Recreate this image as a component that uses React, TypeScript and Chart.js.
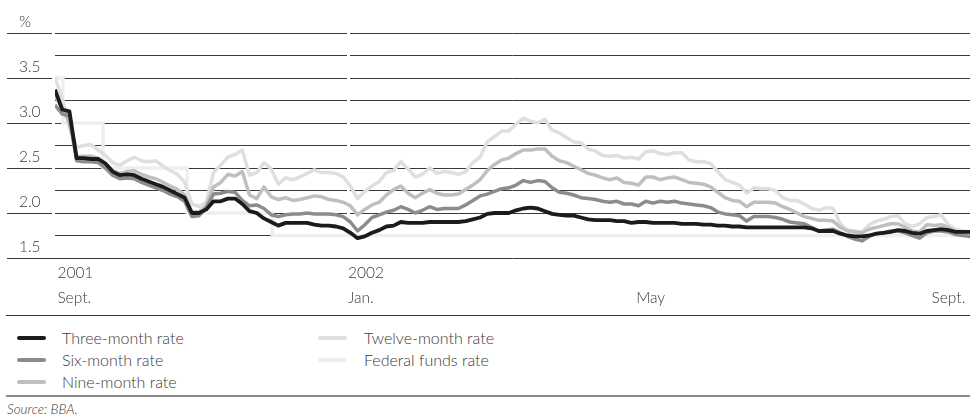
import React, { useEffect, useRef } from 'react';
import { Chart, registerables } from 'chart.js';

Chart.register(...registerables);

// Sample dates: every third day counted from 1 September 2001 (day 0).
const STEP_DAYS = 3;

const threeMonth = [
  3.37, 3.15, 3.13, 2.61, 2.61, 2.60, 2.60, 2.55, 2.46, 2.42,
  2.43, 2.42, 2.38, 2.35, 2.32, 2.29, 2.25, 2.21, 2.17, 2.00,
  2.00, 2.04, 2.13, 2.13, 2.16, 2.16, 2.10, 2.02, 2.00, 1.94,
  1.90, 1.86, 1.89, 1.89, 1.89, 1.89, 1.87, 1.86, 1.86, 1.85,
  1.83, 1.78, 1.72, 1.74, 1.78, 1.81, 1.85, 1.86, 1.90, 1.89,
  1.89, 1.89, 1.90, 1.90, 1.90, 1.90, 1.90, 1.91, 1.93, 1.95,
  1.99, 2.00, 2.00, 2.00, 2.03, 2.05, 2.06, 2.05, 2.02, 1.99,
  1.98, 1.97, 1.97, 1.95, 1.93, 1.92, 1.92, 1.92, 1.91, 1.91,
  1.89, 1.90, 1.90, 1.89, 1.89, 1.89, 1.89, 1.88, 1.88, 1.88,
  1.87, 1.87, 1.86, 1.86, 1.85, 1.85, 1.84, 1.84, 1.84, 1.84,
  1.84, 1.84, 1.84, 1.84, 1.84, 1.83, 1.80, 1.80, 1.80, 1.77,
  1.75, 1.74, 1.74, 1.75, 1.77, 1.78, 1.79, 1.81, 1.80, 1.78,
  1.77, 1.80, 1.81, 1.82, 1.81, 1.79, 1.79, 1.79,
];

const sixMonth = [
  3.20, 3.10, 3.08, 2.58, 2.57, 2.57, 2.56, 2.50, 2.42, 2.38,
  2.39, 2.38, 2.34, 2.31, 2.28, 2.25, 2.21, 2.18, 2.13, 1.96,
  1.97, 2.06, 2.21, 2.22, 2.24, 2.23, 2.14, 2.08, 2.09, 2.05,
  1.98, 1.96, 1.98, 1.99, 1.99, 2.00, 1.99, 1.99, 1.99, 1.98,
  1.96, 1.90, 1.80, 1.87, 1.95, 1.98, 2.01, 2.03, 2.07, 2.04,
  2.00, 2.03, 2.07, 2.04, 2.05, 2.05, 2.05, 2.09, 2.14, 2.19,
  2.21, 2.24, 2.27, 2.28, 2.31, 2.36, 2.34, 2.36, 2.35, 2.28,
  2.23, 2.22, 2.20, 2.17, 2.16, 2.15, 2.13, 2.12, 2.13, 2.10,
  2.10, 2.08, 2.13, 2.11, 2.13, 2.12, 2.13, 2.11, 2.10, 2.09,
  2.08, 2.06, 2.01, 1.99, 1.98, 1.97, 1.91, 1.96, 1.96, 1.96,
  1.95, 1.93, 1.90, 1.89, 1.88, 1.84, 1.80, 1.81, 1.82, 1.78,
  1.74, 1.71, 1.69, 1.74, 1.77, 1.78, 1.80, 1.80, 1.78, 1.75,
  1.72, 1.78, 1.80, 1.80, 1.79, 1.76, 1.75, 1.74,
];

const nineMonth = [
  3.30, 3.17, 3.00, 2.63, 2.63, 2.63, 2.61, 2.55, 2.47, 2.44,
  2.46, 2.47, 2.43, 2.40, 2.38, 2.34, 2.30, 2.26, 2.20, 2.01,
  2.01, 2.08, 2.29, 2.34, 2.43, 2.41, 2.46, 2.20, 2.16, 2.29,
  2.18, 2.15, 2.17, 2.14, 2.15, 2.17, 2.19, 2.18, 2.15, 2.14,
  2.12, 2.08, 1.98, 2.04, 2.09, 2.12, 2.20, 2.26, 2.30, 2.22,
  2.17, 2.22, 2.26, 2.22, 2.20, 2.20, 2.21, 2.26, 2.31, 2.37,
  2.47, 2.54, 2.59, 2.61, 2.66, 2.70, 2.70, 2.71, 2.71, 2.63,
  2.58, 2.56, 2.52, 2.48, 2.44, 2.42, 2.39, 2.37, 2.39, 2.34,
  2.33, 2.31, 2.40, 2.40, 2.37, 2.39, 2.40, 2.37, 2.34, 2.33,
  2.32, 2.29, 2.23, 2.17, 2.14, 2.13, 2.07, 2.12, 2.12, 2.12,
  2.11, 2.07, 2.04, 2.00, 1.96, 1.94, 1.92, 1.92, 1.91, 1.84,
  1.80, 1.79, 1.78, 1.82, 1.84, 1.86, 1.88, 1.88, 1.84, 1.80,
  1.79, 1.87, 1.86, 1.87, 1.84, 1.79, 1.77, 1.76,
];

const twelveMonth = [
  3.50, 3.28, 2.95, 2.73, 2.75, 2.76, 2.70, 2.64, 2.56, 2.53,
  2.58, 2.62, 2.58, 2.57, 2.58, 2.52, 2.47, 2.43, 2.34, 2.10,
  2.07, 2.12, 2.45, 2.53, 2.62, 2.65, 2.70, 2.42, 2.45, 2.56,
  2.49, 2.32, 2.39, 2.37, 2.40, 2.44, 2.48, 2.45, 2.45, 2.44,
  2.40, 2.30, 2.16, 2.24, 2.30, 2.35, 2.45, 2.47, 2.57, 2.49,
  2.40, 2.43, 2.50, 2.44, 2.46, 2.45, 2.43, 2.46, 2.56, 2.62,
  2.79, 2.85, 2.91, 2.91, 2.99, 3.05, 3.02, 3.00, 3.04, 2.92,
  2.89, 2.84, 2.79, 2.78, 2.71, 2.69, 2.64, 2.63, 2.64, 2.61,
  2.62, 2.60, 2.68, 2.69, 2.66, 2.65, 2.67, 2.67, 2.59, 2.57,
  2.57, 2.55, 2.46, 2.37, 2.34, 2.31, 2.22, 2.28, 2.27, 2.27,
  2.25, 2.17, 2.14, 2.14, 2.10, 2.05, 2.03, 2.06, 2.05, 1.88,
  1.81, 1.80, 1.79, 1.87, 1.91, 1.93, 1.96, 1.97, 1.88, 1.85,
  1.88, 1.95, 1.96, 1.98, 1.87, 1.82, 1.80, 1.79,
];

// Federal funds target: day of change (from 1 Sept 2001) and new rate.
const fedChangeDays = [0, 3.3, 20, 55, 90.5, 381];
const fedRates = [3.5, 3.0, 2.5, 2.0, 1.75, 1.75];

const seriesNames = [
  'Three-month rate',
  'Six-month rate',
  'Nine-month rate',
  'Twelve-month rate',
  'Federal funds rate',
];
const seriesColors = ['#1b1b1b', '#8c8c8c', '#bfbfbf', '#dfdfdf', '#edefee'];

const xTickDays = [1, 122, 242, 365];
const xTickYears = ['2001', '2002', '', ''];
const xTickMonths = ['Sept.', 'Jan.', 'May', 'Sept.'];
const xMaxDay = 381;

const yMin = 1.5;
const yMax = 4.0;
const yLabelValues = [1.5, 2.0, 2.5, 3.0, 3.5, 4.0];
const yLabelTexts = ['1.5', '2.0', '2.5', '3.0', '3.5', '%'];

const FONT = 'Lato, "Open Sans", sans-serif';
const TEXT = '#3a3a3a';

const framePlugin = {
  id: 'frame',
  beforeDatasetsDraw(chart: any) {
    const { ctx, chartArea } = chart;
    const ys = chart.scales.y;
    const xs = chart.scales.x;
    ctx.save();
    // white break in grid at the year boundary
    const jx = Math.round(xs.getPixelForValue(xTickDays[1]));
    ctx.fillStyle = '#ffffff';
    ctx.fillRect(jx - 1, chartArea.top - 2, 3, ys.getPixelForValue(1.62) - chartArea.top + 2);
    // stubs and labels on the left
    ctx.strokeStyle = '#3a3a3a';
    ctx.lineWidth = 1;
    ctx.font = `300 15.5px ${FONT}`;
    ctx.fillStyle = TEXT;
    ctx.textAlign = 'left';
    ctx.textBaseline = 'middle';
    yLabelValues.forEach((v, i) => {
      const py = Math.round(ys.getPixelForValue(v)) + 0.5;
      ctx.beginPath();
      ctx.moveTo(7, py);
      ctx.lineTo(v === yMin ? chartArea.left : chartArea.left - 3, py);
      ctx.stroke();
      ctx.fillText(yLabelTexts[i], 19, py - 12);
    });
    ctx.restore();
  },
};

function LineChart() {
  const ref = useRef<HTMLCanvasElement>(null);
  useEffect(() => {
    if (!ref.current) return;
    const days = threeMonth.map((_, i) => i * STEP_DAYS);
    const series = [threeMonth, sixMonth, nineMonth, twelveMonth];
    const datasets: any[] = series.map((s, i) => ({
      label: seriesNames[i],
      data: s,
      borderColor: seriesColors[i],
      borderWidth: i === 0 ? 3.8 : 3.5,
      pointRadius: 0,
      tension: 0,
      borderJoinStyle: 'round',
      fill: false,
    }));
    datasets.push({
      label: seriesNames[4],
      data: fedChangeDays.map((d, i) => ({ x: d, y: fedRates[i] })),
      borderColor: seriesColors[4],
      borderWidth: 3.5,
      pointRadius: 0,
      stepped: 'before',
      fill: false,
    });
    const chart = new Chart(ref.current, {
      type: 'line',
      data: { labels: days, datasets },
      options: {
        animation: false,
        responsive: false,
        devicePixelRatio: 1,
        layout: { padding: { left: 55, top: 33, right: 0, bottom: 0 } },
        plugins: { legend: { display: false }, tooltip: { enabled: false } },
        scales: {
          x: {
            type: 'linear',
            min: 0,
            max: xMaxDay,
            grid: { display: false, drawTicks: false },
            border: { display: false },
            afterBuildTicks: (s: any) => {
              s.ticks = xTickDays.map((v) => ({ value: v }));
            },
            afterFit: (s: any) => {
              s.paddingLeft = 0;
              s.paddingRight = 0;
              s.height = 52;
            },
            ticks: {
              autoSkip: false,
              maxRotation: 0,
              align: 'start',
              padding: 3,
              color: TEXT,
              font: { family: FONT, size: 15.5, weight: '300', lineHeight: 1.6 },
              callback: (v: any) => {
                const i = xTickDays.indexOf(Number(v));
                return i >= 0 ? [xTickYears[i], xTickMonths[i]] : '';
              },
            },
          },
          y: {
            type: 'linear',
            min: yMin,
            max: yMax,
            afterFit: (s: any) => {
              s.width = 0;
            },
            ticks: { display: false, stepSize: 0.25 },
            grid: { color: '#3a3a3a', lineWidth: 1, drawTicks: false },
            border: { display: false },
          },
        },
      },
      plugins: [framePlugin],
    } as any);
    return () => chart.destroy();
  }, []);
  return <canvas ref={ref} width={970} height={310} style={{ position: 'absolute', left: 0, top: 0 }} />;
}

const legendCols = [
  [0, 1, 2],
  [3, 4],
];
const legendColX = [17, 318];
const legendTextX = [62, 364];
const legendRowY = [338, 360, 382];

export default function App() {
  return (
    <div
      style={{
        position: 'absolute',
        left: 0,
        top: 0,
        width: 970,
        height: 418,
        background: '#fff',
        fontFamily: FONT,
        fontWeight: 300,
        color: TEXT,
      }}
    >
      <LineChart />
      <div style={{ position: 'absolute', left: 6, top: 315, width: 964, height: 1, background: '#333' }} />
      {legendCols.map((col, ci) =>
        col.map((si, ri) => (
          <React.Fragment key={si}>
            <div
              style={{
                position: 'absolute',
                left: legendColX[ci],
                top: legendRowY[ri] - 2,
                width: 29,
                height: 4,
                borderRadius: 2,
                background: seriesColors[si],
              }}
            />
            <div
              style={{
                position: 'absolute',
                left: legendTextX[ci],
                top: legendRowY[ri] - 10,
                fontSize: 16,
                lineHeight: '20px',
                whiteSpace: 'nowrap',
              }}
            >
              {seriesNames[si]}
            </div>
          </React.Fragment>
        ))
      )}
      <div style={{ position: 'absolute', left: 6, top: 395, width: 964, height: 2, background: '#8a8a8a' }} />
      <div
        style={{
          position: 'absolute',
          left: 7,
          top: 401,
          fontSize: 13.5,
          lineHeight: '17px',
          fontStyle: 'italic',
          whiteSpace: 'nowrap',
        }}
      >
        Source: BBA.
      </div>
    </div>
  );
}
